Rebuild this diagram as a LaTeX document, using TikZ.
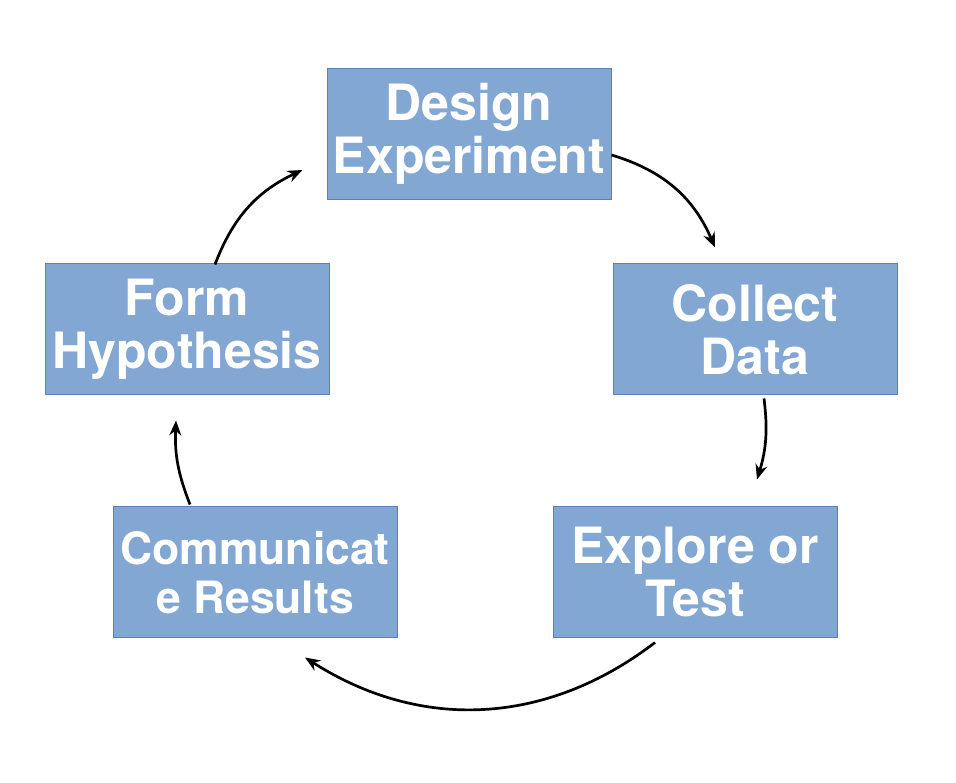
\documentclass[tikz,border=0pt]{standalone}
\usepackage{fontspec}
\setmainfont{TeX Gyre Heros}
\usetikzlibrary{positioning, arrows.meta}
\definecolor{boxfill}{HTML}{82A7D2}
\definecolor{boxline}{HTML}{5B82B5}

\begin{document}
\begin{tikzpicture}[
        x=1pt, y=1pt,
        stepbox/.style={draw=boxline, line width=1pt, fill=boxfill, minimum width=284pt, minimum height=131pt, inner sep=0pt, text=white, align=center, font=\bfseries\fontsize{#1}{53}\selectfont},
        stepbox/.default=50,
        arr/.style={-{Stealth[length=15pt, width=12pt]}, line width=2.7pt},
    ]
    \useasboundingbox (0,0) rectangle (956,782);

    % ---- Steps ----
    \node[stepbox] (design) at (469,648) {Design\\Experiment};
    \node[stepbox] (collect) at (755,452.5) {Collect\\Data};
    \node[stepbox] (explore) at (695,209.5) {Explore or\\Test};
    \node[stepbox, font=\bfseries\fontsize{44.5}{49}\selectfont] (communicate) at (255,209.5) {Communicat\\e Results};
    \node[stepbox] (form) at (187,452.5) {Form\\Hypothesis};

    % ---- Arrow ends ----
    \coordinate (collect-in) at ([shift={(-40,16)}]collect.north);
    \coordinate (explore-in) at ([shift={(62,27)}]explore.north);
    \coordinate (communicate-in) at ([shift={(50,-19)}]communicate.south);
    \coordinate (form-in) at ([shift={(-11,-25)}]form.south);
    \coordinate (design-in) at ([shift={(-24,-36)}]design.west);

    % ---- Cycle ----
    \draw[arr] ([yshift=-21pt]design.east) to[bend left=25] (collect-in);
    \draw[arr] ([shift={(9,-3)}]collect.south) to[bend left=12] (explore-in);
    \draw[arr] ([shift={(-40,-4)}]explore.south) to[bend left=35] (communicate-in);
    \draw[arr] ([shift={(-65,2)}]communicate.north) to[bend left=12] (form-in);
    \draw[arr] ([shift={(28,-1)}]form.north) to[bend left=22] (design-in);
\end{tikzpicture}
\end{document}
